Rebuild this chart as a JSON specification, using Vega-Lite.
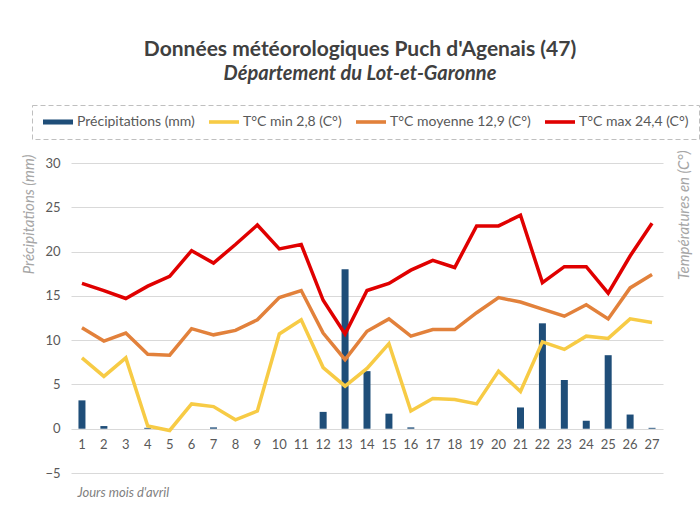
{
  "$schema": "https://vega.github.io/schema/vega-lite/v6.json",
  "autosize": "none",
  "width": 592,
  "height": 310,
  "padding": {"left": 71, "top": 163, "right": 37, "bottom": 42},
  "background": "white",
  "config": {
    "font": "Lato",
    "view": {"stroke": null},
    "axis": {"labelFont": "Lato", "titleFont": "Lato"}
  },
  "title": {
    "text": "Données météorologiques Puch d'Agenais (47)",
    "subtitle": "Département du Lot-et-Garonne",
    "font": "Lato",
    "fontSize": 21,
    "fontWeight": "bold",
    "color": "#404040",
    "subtitleFont": "Lato",
    "subtitleFontSize": 20,
    "subtitleFontStyle": "italic",
    "subtitleFontWeight": "bold",
    "subtitleColor": "#404040",
    "subtitlePadding": 4,
    "anchor": "middle",
    "offset": 21,
    "dx": -7
  },
  "datasets": {
    "meteo": [
      {"day": 1, "precip": 3.2, "tmin": 8.0, "tmoy": 11.4, "tmax": 16.4},
      {"day": 2, "precip": 0.3, "tmin": 5.9, "tmoy": 9.9, "tmax": 15.6},
      {"day": 3, "precip": 0, "tmin": 8.0, "tmoy": 10.8, "tmax": 14.7},
      {"day": 4, "precip": 0.1, "tmin": 0.3, "tmoy": 8.4, "tmax": 16.1},
      {"day": 5, "precip": 0, "tmin": -0.2, "tmoy": 8.3, "tmax": 17.2},
      {"day": 6, "precip": 0, "tmin": 2.8, "tmoy": 11.3, "tmax": 20.1},
      {"day": 7, "precip": 0.15, "tmin": 2.5, "tmoy": 10.6, "tmax": 18.7},
      {"day": 8, "precip": 0, "tmin": 1.0, "tmoy": 11.1, "tmax": 20.8},
      {"day": 9, "precip": 0, "tmin": 2.0, "tmoy": 12.3, "tmax": 23.0},
      {"day": 10, "precip": 0, "tmin": 10.7, "tmoy": 14.8, "tmax": 20.3},
      {"day": 11, "precip": 0, "tmin": 12.3, "tmoy": 15.6, "tmax": 20.8},
      {"day": 12, "precip": 1.9, "tmin": 6.9, "tmoy": 10.8, "tmax": 14.5},
      {"day": 13, "precip": 18.0, "tmin": 4.8, "tmoy": 7.8, "tmax": 10.7},
      {"day": 14, "precip": 6.5, "tmin": 6.8, "tmoy": 11.0, "tmax": 15.6},
      {"day": 15, "precip": 1.7, "tmin": 9.6, "tmoy": 12.4, "tmax": 16.4},
      {"day": 16, "precip": 0.15, "tmin": 2.0, "tmoy": 10.45, "tmax": 17.9},
      {"day": 17, "precip": 0, "tmin": 3.4, "tmoy": 11.2, "tmax": 19.0},
      {"day": 18, "precip": 0, "tmin": 3.3, "tmoy": 11.2, "tmax": 18.2},
      {"day": 19, "precip": 0, "tmin": 2.8, "tmoy": 13.1, "tmax": 22.9},
      {"day": 20, "precip": 0, "tmin": 6.5, "tmoy": 14.8, "tmax": 22.9},
      {"day": 21, "precip": 2.4, "tmin": 4.2, "tmoy": 14.3, "tmax": 24.1},
      {"day": 22, "precip": 11.9, "tmin": 9.8, "tmoy": 13.5, "tmax": 16.5},
      {"day": 23, "precip": 5.5, "tmin": 8.95, "tmoy": 12.7, "tmax": 18.3},
      {"day": 24, "precip": 0.9, "tmin": 10.45, "tmoy": 14.0, "tmax": 18.3},
      {"day": 25, "precip": 8.3, "tmin": 10.2, "tmoy": 12.4, "tmax": 15.3},
      {"day": 26, "precip": 1.6, "tmin": 12.4, "tmoy": 15.9, "tmax": 19.5},
      {"day": 27, "precip": 0.1, "tmin": 12.0, "tmoy": 17.4, "tmax": 23.2}
    ]
  },
  "data": {"name": "meteo"},
  "encoding": {
    "x": {
      "field": "day",
      "type": "ordinal",
      "scale": {"paddingInner": 0, "paddingOuter": 0},
      "axis": {
        "title": "Jours mois d'avril",
        "labelAngle": 0,
        "labelFontSize": 13,
        "labelColor": "#595959",
        "labelPadding": 9,
        "domain": false,
        "ticks": false,
        "grid": false,
        "offset": -44,
        "titleFontSize": 13,
        "titleFontStyle": "italic",
        "titleFontWeight": "normal",
        "titleColor": "#7f7f7f",
        "titleAnchor": "start",
        "titleAlign": "left",
        "titleBaseline": "alphabetic",
        "titleX": 6,
        "titleY": 67
      }
    }
  },
  "layer": [
    {
      "mark": {"type": "bar", "width": 7},
      "encoding": {
        "y": {
          "field": "precip",
          "type": "quantitative",
          "scale": {"domain": [-5, 30], "nice": false},
          "axis": {
            "title": "Précipitations (mm)",
            "values": [-5, 0, 5, 10, 15, 20, 25, 30],
            "labelFontSize": 13,
            "labelColor": "#595959",
            "labelPadding": 11,
            "domain": false,
            "ticks": false,
            "grid": true,
            "gridColor": "#d9d9d9",
            "gridWidth": 1,
            "titleFontSize": 15,
            "titleFontStyle": "italic",
            "titleFontWeight": "normal",
            "titleColor": "#a6a6a6",
            "titleAngle": -90,
            "titleAlign": "right",
            "titleBaseline": "middle",
            "titleX": -43,
            "titleY": -9
          }
        },
        "color": {
          "datum": "precip",
          "type": "nominal",
          "title": null,
          "scale": {
            "domain": ["precip", "tmin", "tmoy", "tmax"],
            "range": ["#1f4e79", "#f7cb45", "#e2813b", "#e00000"]
          },
          "legend": {
            "orient": "none",
            "legendX": -39,
            "legendY": -58,
            "direction": "horizontal",
            "columns": 4,
            "title": null,
            "labelExpr": "{'precip': 'Précipitations (mm)', 'tmin': 'T°C min 2,8 (C°)', 'tmoy': 'T°C moyenne 12,9 (C°)', 'tmax': 'T°C max 24,4 (C°)'}[datum.label]",
            "labelFontSize": 14,
            "labelColor": "#595959",
            "labelFont": "Lato",
            "labelOffset": 21,
            "columnPadding": 13,
            "symbolSize": 144,
            "symbolType": "M-1,-0.3H4V0.3H-1Z",
            "strokeColor": "#bfbfbf",
            "padding": 10,
            "encode": {
              "legend": {
                "update": {
                  "strokeDash": {"value": [5, 3]}
                }
              },
              "symbols": {
                "update": {
                  "fill": {"scale": "color", "field": "value"},
                  "stroke": {"value": "transparent"},
                  "strokeWidth": {"value": 0},
                  "opacity": {"value": 1},
                  "shape": {"signal": "datum.value === 'precip' ? 'M-1,-0.42H4V0.42H-1Z' : 'M-1,-0.3H4V0.3H-1Z'"}
                }
              }
            }
          }
        }
      }
    },
    {
      "transform": [{"fold": ["tmin", "tmoy", "tmax"], "as": ["series", "temp"]}],
      "mark": {"type": "line", "strokeWidth": 3.5, "strokeJoin": "miter"},
      "encoding": {
        "y": {
          "field": "temp",
          "type": "quantitative",
          "scale": {"domain": [-5, 30], "nice": false},
          "axis": {
            "orient": "right",
            "title": "Températures en  (C°)",
            "labels": false,
            "domain": false,
            "ticks": false,
            "grid": false,
            "titleFontSize": 15,
            "titleFontStyle": "italic",
            "titleFontWeight": "normal",
            "titleColor": "#a6a6a6",
            "titleAngle": -90,
            "titleAlign": "right",
            "titleBaseline": "middle",
            "titleX": 20,
            "titleY": -13
          }
        },
        "color": {"field": "series", "type": "nominal", "title": null},
        "detail": {"field": "series"}
      }
    }
  ],
  "resolve": {"scale": {"y": "independent"}}
}
